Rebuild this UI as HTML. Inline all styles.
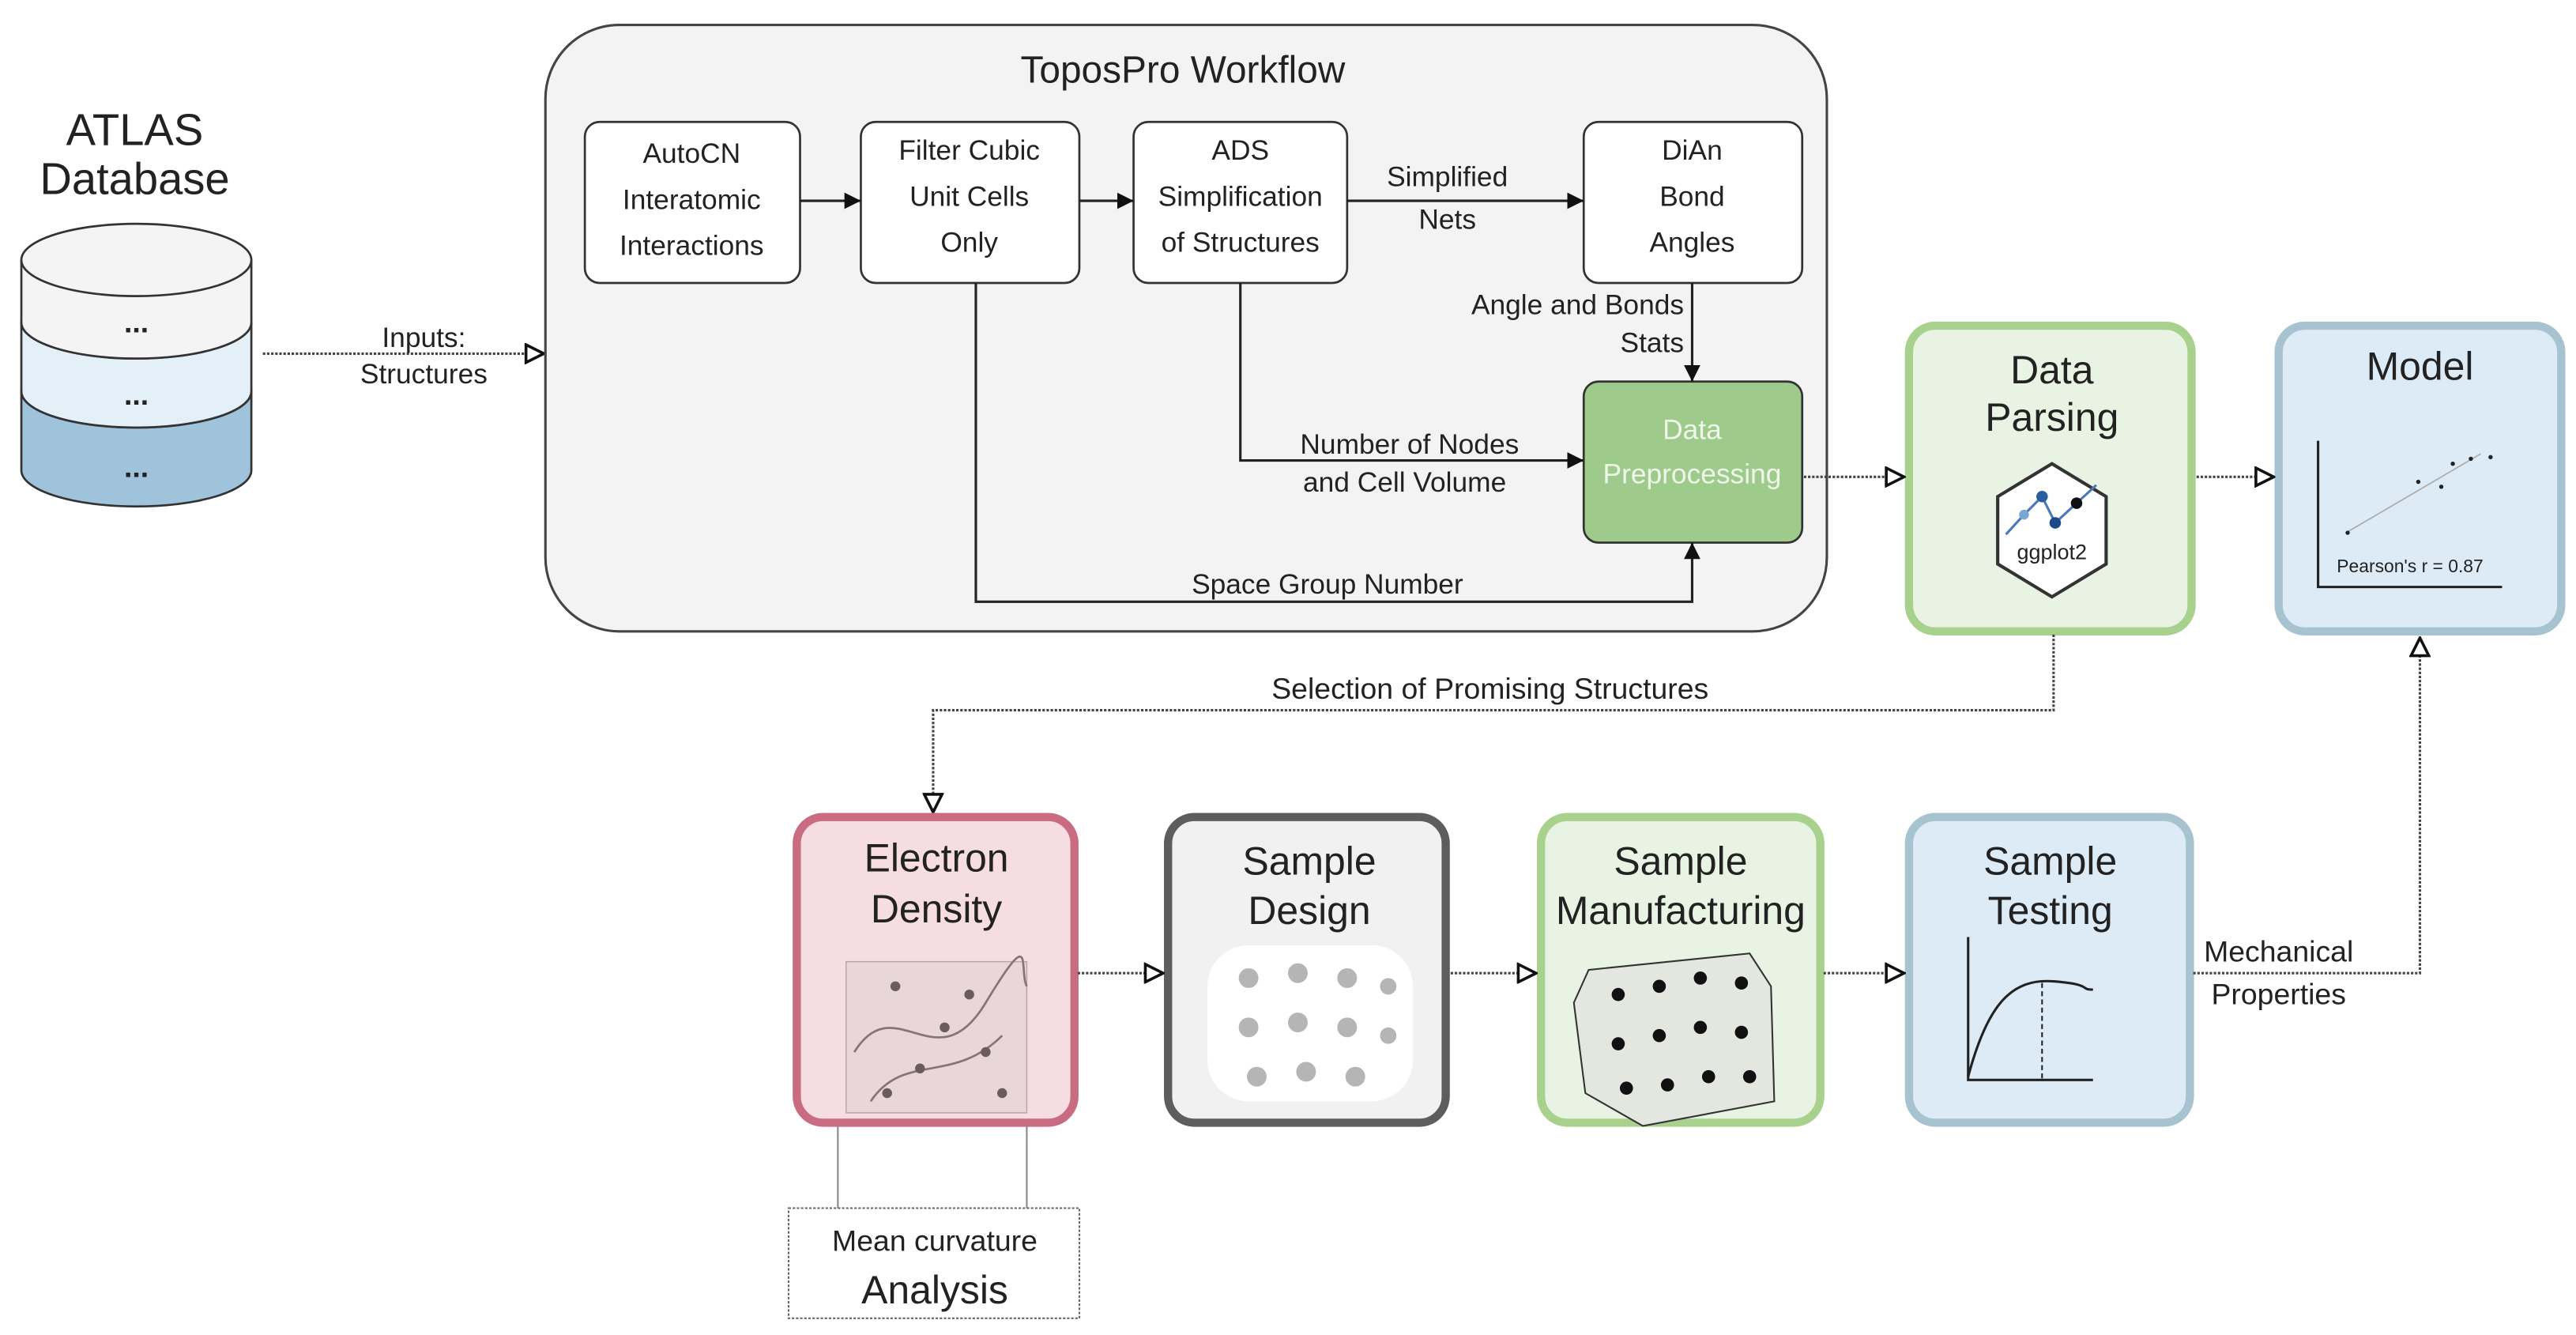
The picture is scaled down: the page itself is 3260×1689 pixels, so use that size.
<!DOCTYPE html>
<html><head><meta charset="utf-8"><style>
html,body{margin:0;padding:0;background:#fff}
svg{display:block}
text{font-family:"Liberation Sans",sans-serif;fill:#222}
</style></head><body>
<svg width="3260" height="1689" viewBox="0 0 1568 812" xmlns="http://www.w3.org/2000/svg">
<defs>
<marker id="fa" viewBox="0 0 10 10" refX="10" refY="5" markerWidth="10" markerHeight="10" markerUnits="userSpaceOnUse" orient="auto"><path d="M0,0L10,5L0,10z" fill="#111"/></marker>
<marker id="oa" viewBox="0 0 12 12" refX="11" refY="6" markerWidth="13" markerHeight="13" markerUnits="userSpaceOnUse" orient="auto"><path d="M1,1L11,6L1,11z" fill="#fff" stroke="#111" stroke-width="1.6"/></marker>
</defs>
<!-- ATLAS -->
<text x="82" y="88" font-size="27" text-anchor="middle">ATLAS</text>
<text x="82" y="118" font-size="27" text-anchor="middle">Database</text>
<g stroke="#333" stroke-width="1.3">
<path d="M13,238 L13,286 A70,22 0 0 0 153,286 L153,238" fill="#9fc3db"/>
<ellipse cx="83" cy="238" rx="70" ry="22" fill="#9fc3db"/>
<path d="M13,196 L13,238 A70,22 0 0 0 153,238 L153,196" fill="#e4f0f8"/>
<ellipse cx="83" cy="196" rx="70" ry="22" fill="#e4f0f8"/>
<path d="M13,158 L13,196 A70,22 0 0 0 153,196 L153,158" fill="#f4f4f4"/>
<ellipse cx="83" cy="158" rx="70" ry="22" fill="#f4f4f4"/>
</g>
<text x="83" y="202" font-size="18" text-anchor="middle" font-weight="bold">...</text>
<text x="83" y="246" font-size="18" text-anchor="middle" font-weight="bold">...</text>
<text x="83" y="290" font-size="18" text-anchor="middle" font-weight="bold">...</text>
<line x1="160" y1="215" x2="331" y2="215" stroke="#444" stroke-width="1.5" stroke-dasharray="1.5,1" marker-end="url(#oa)"/>
<text x="258" y="211" font-size="17" text-anchor="middle">Inputs:</text>
<text x="258" y="233" font-size="17" text-anchor="middle">Structures</text>
<!-- Topos box -->
<rect x="332" y="15" width="780" height="369" rx="45" fill="#f3f3f3" stroke="#444" stroke-width="1.5"/>
<text x="720" y="50" font-size="23" text-anchor="middle">ToposPro Workflow</text>
<g stroke="#333" stroke-width="1.3" fill="#fff">
<rect x="356" y="74" width="131" height="98" rx="9"/>
<rect x="524" y="74" width="133" height="98" rx="9"/>
<rect x="690" y="74" width="130" height="98" rx="9"/>
<rect x="964" y="74" width="133" height="98" rx="9"/>
<rect x="964" y="232" width="133" height="98" rx="9" fill="#9ecb8c"/>
</g>
<g font-size="17" text-anchor="middle">
<text x="421" y="99">AutoCN</text><text x="421" y="127">Interatomic</text><text x="421" y="155">Interactions</text>
<text x="590" y="97">Filter  Cubic</text><text x="590" y="125">Unit  Cells</text><text x="590" y="153">Only</text>
<text x="755" y="97">ADS</text><text x="755" y="125">Simplification</text><text x="755" y="153">of  Structures</text>
<text x="1030" y="97">DiAn</text><text x="1030" y="125">Bond</text><text x="1030" y="153">Angles</text>
<text x="1030" y="267" style="fill:#eef7e8">Data</text><text x="1030" y="294" style="fill:#eef7e8">Preprocessing</text>
<text x="881" y="113">Simplified</text><text x="881" y="139">Nets</text>
<text x="1025" y="191" text-anchor="end">Angle and Bonds</text><text x="1025" y="214" text-anchor="end">Stats</text>
<text x="858" y="276">Number of Nodes</text><text x="855" y="299">and Cell Volume</text>
<text x="808" y="361">Space Group Number</text>
</g>
<g stroke="#222" stroke-width="1.5" fill="none">
<line x1="487" y1="122" x2="524" y2="122" marker-end="url(#fa)"/>
<line x1="657" y1="122" x2="690" y2="122" marker-end="url(#fa)"/>
<line x1="820" y1="122" x2="964" y2="122" marker-end="url(#fa)"/>
<line x1="1030" y1="172" x2="1030" y2="232" marker-end="url(#fa)"/>
<polyline points="755,172 755,280 964,280" marker-end="url(#fa)"/>
<polyline points="594,172 594,366 1030,366 1030,330" marker-end="url(#fa)"/>
</g>
<!-- Data Parsing / Model -->
<rect x="1162" y="198" width="172" height="186" rx="16" fill="#e8f3e3" stroke="#a9d18e" stroke-width="5"/>
<text x="1249" y="233" font-size="24" text-anchor="middle">Data</text>
<text x="1249" y="262" font-size="24" text-anchor="middle">Parsing</text>
<polygon points="1249,282 1282,302 1282,343 1249,363 1216,343 1216,302" fill="#fff" stroke="#333" stroke-width="2"/>
<polyline points="1221,325 1232,313 1243,302 1251,318 1264,306 1276,295" fill="none" stroke="#4a7ab5" stroke-width="1.5"/>
<circle cx="1232" cy="313" r="3" fill="#7aa6d6"/><circle cx="1243" cy="302" r="3.5" fill="#2a5ea0"/><circle cx="1251" cy="318" r="3.5" fill="#1c4a88"/><circle cx="1264" cy="306" r="3.5" fill="#111"/>
<text x="1249" y="340" font-size="13" text-anchor="middle">ggplot2</text>
<rect x="1387" y="198" width="172" height="186" rx="16" fill="#ddebf6" stroke="#a8c3d0" stroke-width="5"/>
<text x="1473" y="231" font-size="24" text-anchor="middle">Model</text>
<polyline points="1411,268 1411,357 1523,357" fill="none" stroke="#222" stroke-width="1.5"/>
<line x1="1428" y1="324" x2="1510" y2="276" stroke="#aaa" stroke-width="0.8"/>
<g fill="#222"><circle cx="1429" cy="324" r="1.3"/><circle cx="1472" cy="293" r="1.3"/><circle cx="1486" cy="296" r="1.3"/><circle cx="1493" cy="282" r="1.3"/><circle cx="1504" cy="279" r="1.3"/><circle cx="1516" cy="278" r="1.3"/></g>
<text x="1467" y="348" font-size="11" text-anchor="middle">Pearson's r = 0.87</text>
<g stroke="#444" stroke-width="1.5" stroke-dasharray="1.5,1" fill="none">
<line x1="1098" y1="290" x2="1159" y2="290" marker-end="url(#oa)"/>
<line x1="1337" y1="290" x2="1384" y2="290" marker-end="url(#oa)"/>
<polyline points="1250,386 1250,432 568,432 568,494" marker-end="url(#oa)"/>
</g>
<text x="907" y="425" font-size="18" text-anchor="middle">Selection of Promising Structures</text>
<!-- bottom boxes -->
<rect x="485" y="497" width="169" height="186" rx="16" fill="#f6dde2" stroke="#c96b81" stroke-width="5"/>
<rect x="711" y="497" width="169" height="186" rx="16" fill="#f1f1f1" stroke="#5e5c5c" stroke-width="5"/>
<rect x="938" y="497" width="170" height="186" rx="16" fill="#e8f3e3" stroke="#a9d18e" stroke-width="5"/>
<rect x="1162" y="497" width="171" height="186" rx="16" fill="#ddebf6" stroke="#a8c3d0" stroke-width="5"/>
<g font-size="24" text-anchor="middle">
<text x="570" y="530">Electron</text><text x="570" y="561">Density</text>
<text x="797" y="532">Sample</text><text x="797" y="562">Design</text>
<text x="1023" y="532">Sample</text><text x="1023" y="562">Manufacturing</text>
<text x="1248" y="532">Sample</text><text x="1248" y="562">Testing</text>
</g>
<!-- images approximations -->
<rect x="515" y="585" width="110" height="92" fill="#e9d6da" stroke="#b9a5aa" stroke-width="0.7"/>
<g fill="none" stroke="#8a7377" stroke-width="1.3"><path d="M520,640 C545,600 570,660 600,610 S620,590 625,600"/><path d="M530,670 C550,640 580,660 610,630"/></g>
<g fill="#6b5a5e"><circle cx="545" cy="600" r="3"/><circle cx="575" cy="625" r="3"/><circle cx="560" cy="650" r="3"/><circle cx="600" cy="640" r="3"/><circle cx="590" cy="605" r="3"/><circle cx="540" cy="665" r="3"/><circle cx="610" cy="665" r="3"/></g>
<rect x="735" y="575" width="125" height="95" rx="25" fill="#fff"/>
<g fill="#b5b5b5"><circle cx="760" cy="595" r="6"/><circle cx="790" cy="592" r="6"/><circle cx="820" cy="595" r="6"/><circle cx="845" cy="600" r="5"/><circle cx="760" cy="625" r="6"/><circle cx="790" cy="622" r="6"/><circle cx="820" cy="625" r="6"/><circle cx="845" cy="630" r="5"/><circle cx="765" cy="655" r="6"/><circle cx="795" cy="652" r="6"/><circle cx="825" cy="655" r="6"/></g>
<path d="M967,590 L1065,580 L1078,600 L1080,670 L1000,685 L965,665 L958,610 Z" fill="#e3e7e0" stroke="#333" stroke-width="1"/>
<g fill="#111"><circle cx="985" cy="605" r="4"/><circle cx="1010" cy="600" r="4"/><circle cx="1035" cy="595" r="4"/><circle cx="1060" cy="598" r="4"/><circle cx="985" cy="635" r="4"/><circle cx="1010" cy="630" r="4"/><circle cx="1035" cy="625" r="4"/><circle cx="1060" cy="628" r="4"/><circle cx="990" cy="662" r="4"/><circle cx="1015" cy="660" r="4"/><circle cx="1040" cy="655" r="4"/><circle cx="1065" cy="655" r="4"/></g>
<polyline points="1198,570 1198,657 1274,657" fill="none" stroke="#222" stroke-width="1.5"/>
<path d="M1198,655 C1210,610 1225,595 1250,597 S1265,602 1274,602" fill="none" stroke="#222" stroke-width="1.5"/>
<line x1="1243" y1="598" x2="1243" y2="657" stroke="#222" stroke-width="1" stroke-dasharray="3,2"/>
<g stroke="#444" stroke-width="1.5" stroke-dasharray="1.5,1" fill="none">
<line x1="656" y1="592" x2="708" y2="592" marker-end="url(#oa)"/>
<line x1="883" y1="592" x2="935" y2="592" marker-end="url(#oa)"/>
<line x1="1110" y1="592" x2="1159" y2="592" marker-end="url(#oa)"/>
<polyline points="1335,592 1473,592 1473,388" marker-end="url(#oa)"/>
</g>
<text x="1387" y="585" font-size="18" text-anchor="middle">Mechanical</text>
<text x="1387" y="611" font-size="18" text-anchor="middle">Properties</text>
<!-- Mean curvature -->
<g stroke="#888" stroke-width="1"><line x1="510" y1="685" x2="510" y2="735"/><line x1="625" y1="685" x2="625" y2="735"/></g>
<rect x="480" y="735" width="177" height="67" fill="#fff" stroke="#666" stroke-width="1" stroke-dasharray="1.5,1"/>
<text x="569" y="761" font-size="18" text-anchor="middle">Mean curvature</text>
<text x="569" y="793" font-size="24" text-anchor="middle">Analysis</text>
</svg>
</body></html>
